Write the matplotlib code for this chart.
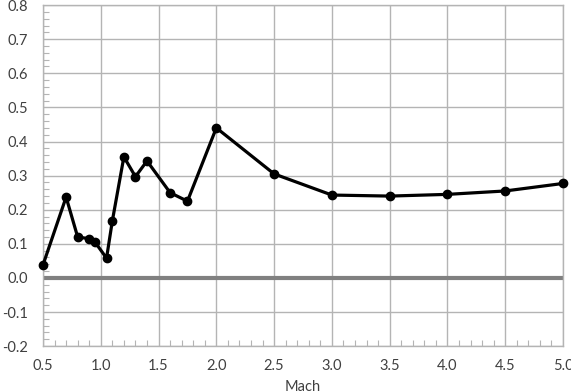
import matplotlib.pyplot as plt
import numpy as np
from matplotlib.ticker import MultipleLocator

# Data
mach = [0.5, 0.7, 0.8, 0.9, 0.95, 1.05, 1.1, 1.2, 1.3, 1.4, 1.6, 1.75,
        2.0, 2.5, 3.0, 3.5, 4.0, 4.5, 5.0]
values = [0.038, 0.237, 0.12, 0.115, 0.105, 0.058, 0.167, 0.355, 0.297, 0.343,
          0.25, 0.225, 0.44, 0.305, 0.243, 0.240, 0.245, 0.255, 0.277]

plt.rcParams['font.family'] = ['Lato', 'DejaVu Sans']
plt.rcParams['axes.unicode_minus'] = False

fig = plt.figure(figsize=(5.71, 3.92), dpi=100)
ax = fig.add_axes([0.0753, 0.117, 0.9107, 0.870])

grid_c = '#b4b4b4'
ax.set_xlim(0.5, 5.0)
ax.set_ylim(-0.2, 0.8)
ax.xaxis.set_major_locator(MultipleLocator(0.5))
ax.xaxis.set_minor_locator(MultipleLocator(0.1))
ax.yaxis.set_major_locator(MultipleLocator(0.1))
ax.yaxis.set_minor_locator(MultipleLocator(0.02))
ax.xaxis.set_major_formatter(lambda v, p: f'{v:.1f}')
ax.yaxis.set_major_formatter(lambda v, p: f'{v:.1f}')
ax.grid(True, which='major', color=grid_c, linewidth=1.0)
ax.set_axisbelow(True)

ax.tick_params(which='major', length=0, labelsize=10.5, colors='#404040')
ax.tick_params(axis='y', which='major', pad=11)
ax.tick_params(axis='x', which='major', pad=9)
ax.tick_params(which='minor', direction='in', length=4, color=grid_c, width=0.8)
ax.tick_params(axis='x', which='minor', top=False)
ax.tick_params(axis='y', which='minor', right=False)
for s in ax.spines.values():
    s.set_color(grid_c)
    s.set_linewidth(1.0)

ax.axhline(0.0, color='#808080', linewidth=3, zorder=2)
ax.plot(mach, values, color='black', linewidth=2.3, marker='o',
        markersize=6, zorder=3, clip_on=False)

ax.set_xlabel('Mach', fontsize=10.5, color='#404040', labelpad=5)

fig.savefig('out.png', dpi=100)
